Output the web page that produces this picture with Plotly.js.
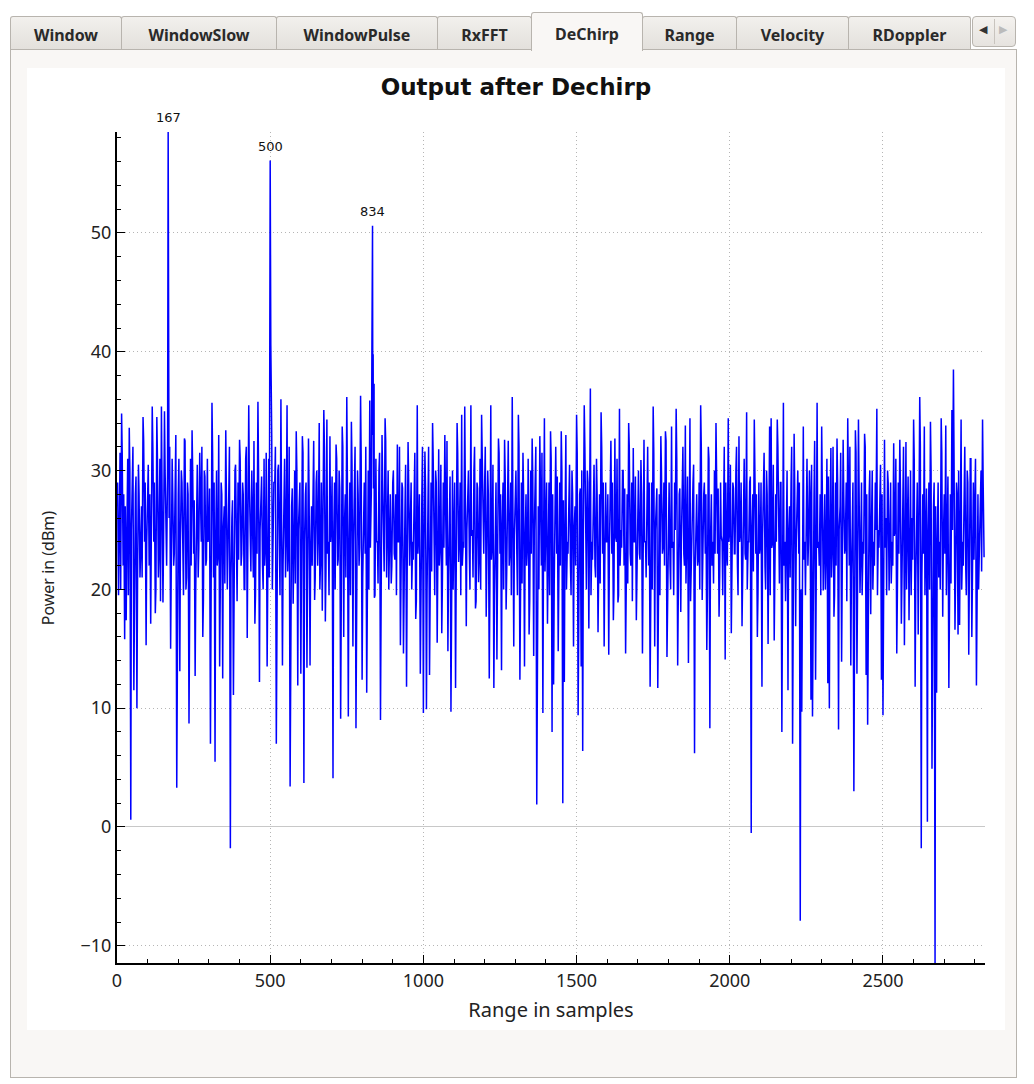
<!DOCTYPE html>
<html>
<head>
<meta charset="utf-8">
<script src="https://cdn.plot.ly/plotly-3.0.1.min.js"></script>
<style>
  html, body { margin: 0; padding: 0; background: #ffffff; width: 1034px; height: 1084px; overflow: hidden; }
  .tab { position: absolute; top: 16px; height: 33px; box-sizing: border-box;
         border: 1px solid #b8b4ae; border-bottom: none; border-radius: 3px 3px 0 0;
         background: linear-gradient(#f2f0ed, #e3e0dc);
         font-family: "Noto Sans", "DejaVu Sans", sans-serif; font-weight: bold; font-size: 16px;
         color: #2a2a2a; text-align: center; line-height: 36px; }
  .tab.active { top: 12px; height: 39px; background: #f9f7f5; z-index: 3; line-height: 42px; }
  #panel { position: absolute; left: 10px; top: 49px; width: 1007px; height: 1029px; box-sizing: border-box;
           border: 1px solid #b8b4ae; background: #f9f7f5; }
  #chart { position: absolute; left: 27px; top: 68px; width: 978px; height: 962px; background: #ffffff; z-index: 2; }
  #arrows { position: absolute; left: 972px; top: 16px; width: 44px; height: 31px; box-sizing: border-box;
            border: 1px solid #b8b4ae; border-radius: 4px; background: linear-gradient(#f4f2ef, #e6e3df); }
  #arrows span { position: absolute; top: 6px; font-size: 11px; font-family: "DejaVu Sans", sans-serif; }
</style>
</head>
<body>
<div id="panel"></div>
<div class="tab" style="left:10px;width:112px;">Window</div>
<div class="tab" style="left:121px;width:156px;">WindowSlow</div>
<div class="tab" style="left:276px;width:162px;">WindowPulse</div>
<div class="tab" style="left:437px;width:95px;">RxFFT</div>
<div class="tab active" style="left:531px;width:112px;">DeChirp</div>
<div class="tab" style="left:642px;width:95px;">Range</div>
<div class="tab" style="left:736px;width:113px;">Velocity</div>
<div class="tab" style="left:848px;width:123px;">RDoppler</div>
<div id="arrows"><span style="left:6px;color:#333;">&#9664;</span><span style="left:26px;color:#bbb;">&#9654;</span><div style="position:absolute;left:21px;top:2px;width:1px;height:25px;background:#c8c4be;"></div></div>
<div id="chart"></div>
<script>
// ---- data (read / estimated from the reference picture) ----
const sampleStep = 5;      // power[i] is the value at sample i*sampleStep
const midOffset = 2;       // powerMid[i] is the value at sample i*sampleStep + midOffset
const power = [
 27,19.5,31.5,34.8,22,15.8,17.4,31,33.6,0.6,30,11.5,28,10,30.5,21,27,34.5,24,15.3,
 29,22,17.1,35.4,24,18,34.5,21,31,35.4,18.9,35,23,30,26,15,31,22,32.8,3.3,
 28,13.1,30,22,32.7,20,29,8.7,31,33.4,23,12.7,30,21,31.5,24,16,30,22,31,
 25,7.0,35.7,21,5.5,30,23,13.5,29,12.5,27,33.4,20,28,-1.8,26,11.1,30,19,29,
 32.6,22,29,20,31,15.9,35.5,23,30,21,17.1,29,35.8,12.2,28,22,31,24,13.5,31,
 30,33,24,29,7.0,30,22,36,13.6,29,21,35.5,24,3.4,27,18.8,30,33.3,11.9,29,
 12.9,32.9,3.7,28,13.4,32.7,13.6,27,32.2,19.1,29,22,34,23,18.2,35.1,17.3,34.3,24,32.9,
 26,4.1,29,32.2,22,30,9.1,33.7,16,28,36.2,9.3,29,34.1,15.2,28,8.3,30,22,36.3,
 12.4,29,23,11.3,30,35.9,28,33,19.3,31,24,30,9.0,33,23,34.4,21,30,25,20.5,
 29,23,28,32.2,24,15.3,29,14.6,27,11.8,32.4,22,29,24,30,17.5,35.5,25,12.9,28,
 9.6,31.6,9.9,28,12.8,29,34,23,30,15.5,31.8,24,16.3,29,33,22,14.8,28,9.7,30,
 26,11.7,34,22.3,29,34.7,24,35.4,16.9,30,23,35.5,25,30,18.4,29,20.6,31,34.7,23,
 29,17.7,30,12.5,35.5,24,11.7,28,14.1,32.7,23,13.2,29,32.6,18.3,30,22,29,36.2,15.2,
 28,23,34.7,12.4,29,31.5,13.5,28,24,16.2,30,32.7,14.4,28,1.9,27,32.9,22,9.6,34.4,
 26,17.1,29,33.3,8.0,12,28,23,14.8,29,33.3,2.0,12.2,33,24,29,22,30,15.2,27,
 34.7,9.4,28,13.5,6.4,35.5,23,30,16.7,36.9,24,30,22,31,16.4,28,34.9,23,15.2,29,
 24,14.5,29,23,17.4,32.7,24,18.9,35.2,25,30,22,14.6,28,34,23,29,31.9,24,17.4,
 28,23,30.9,14.6,32.6,24,29,22,11.8,29,35.4,15.2,27,11.7,28,32.9,23,29,33.3,14.3,
 26,22,33.7,24,29,35.2,13.6,28,18.1,30,23,33.8,25,13.8,34.4,24,29,6.2,27,22,
 29,35.5,19.1,28,23,14.9,32,8.3,28,24,30,34,23,17.7,29,24,30,14.1,23,34.4,
 25,16.3,29,23,30,22,32.9,25,16.9,28,23,34.9,24,29,-0.5,28,34.3,23,16,29,
 24,11.8,28,22,30,15.4,33.7,34.4,24,15.7,28,34.3,23,29,8,35.7,24,28,11.5,27,
 29,7.0,33.1,16.9,28,23,-7.9,9.7,33.7,24,29,22,30,10.7,9.3,28,12.4,35.7,24,28,
 33.7,19.9,28,24,12.1,10,31.9,24,17.7,29,32.7,8.2,27,13.9,32.6,23,29,34.4,22,13.6,
 27,3.0,33.4,12.9,34.3,19.7,29,24,33.1,12.8,8.6,28,17.9,30,24,29,35.2,25,29,12.4,
 9.4,32.6,26,30,19.9,29,24,32.3,25,14.6,29,32.6,17.1,28,15.3,32.4,24,17.4,30,26,
 34.3,11.8,29,16.2,36.2,-1.8,28,33.7,24,0.45,29,34.1,4.9,27,-11.45,11.3,29,24,34.4,17.7,
 28,33.8,24,11.7,28,35.1,38.5,16.6,29,16.2,17,34.3,24,29,22,30,14.5,31,16,29,
 30.3,11.9,28,24,30,34.3,22.7
];
// dense core of the noise band, between the samples above
const powerMid = [
 29,23.5,20,31.5,28,27,24,19.5,30,25,32,22,29.5,20.5,28,23,21,32.5,29,24,
 30.5,28,24.5,32,29,20,31,23,19,28.5,24,30,22,25,32,21,28,23,33,20.5,
 31,24,29,19.5,32.5,21,28,25,22,30,27.5,20,30.5,23.5,28,32,19,29.5,22.5,24,
 28.5,20,31.5,29,24,22,33,19.5,28,25,20.5,29.5,23,32,21,27.5,24.5,30.5,19,22.5,
 31,23,28,20,32,24.5,29,21.5,27.5,32.5,19.5,23,30,25,29.5,20,22,31.5,24,21,
 23,20,29,32,25,30.5,19.5,28,22,31,24,21.5,32,20,28.5,23.5,20.5,30,25,29,
 20.5,31.5,24,29,19.5,28,23,22,32.5,21,30,24.5,20,29,25,32,21.5,23,19.5,24,
 29.5,24,20,31,22.5,28.5,19.5,32,25,21,29,23,19.5,30.5,24,32,20.5,28,23.5,31,
 21,29,32,24.5,20,23.5,22,28.5,19.5,24,20.5,31.5,23,29,21.5,32.5,25,20,28,22,
 30,22.5,19.5,24,32,20,28.5,23.5,30.5,21,29,25,20,22.5,31.5,19,23,28,24.5,32,
 23,28.5,20,32,24,21.5,31,19.5,29,25,22,30.5,20.5,23.5,28,32.5,21,29.5,24,20,
 29,20.5,31.5,24,19.5,22,23.5,28,25,30,20,24.5,21,32,19,28.5,22.5,20,31,23,
 32,24,28,20,22.5,30.5,19.5,29,23,31.5,28,25,20,29.5,21.5,32.5,23,19.5,28.5,24.5,
 30,19.5,32,23.5,20.5,28,24,22,31,19,23,29.5,25,32,21,20,28.5,31.5,23,21.5,
 29,24,19.5,31,28,20.5,32,29.5,23,22,30,27.5,24.5,20,23,30.5,19.5,28,25,22,
 31.5,21,28.5,30,24,32,20,29,23.5,19.5,22.5,30.5,21,28,25,20.5,32,29,22,24,
 28,23,32.5,29,20,24.5,31,19.5,22,23.5,30,28.5,24,20.5,32,22,19,24,29.5,21,
 30,22.5,28,19.5,24,21,32,29,23,20,31.5,25,28.5,21.5,19.5,30,23.5,22,32.5,20,
 29,20,23.5,19.5,25,31,21,28.5,24,32,22,20.5,29.5,23,19,24.5,30.5,21.5,28,22.5,
 20,32,23.5,29,28,19.5,31,24,22,20.5,23,30.5,28.5,21,24.5,19.5,32,29,22,24,
 30.5,20,28.5,23,32,19.5,24,29,21,31,22.5,20,24,29.5,25,21.5,31,28,19.5,23,
 29,24.5,31.5,20,28,22,19.5,23.5,30.5,21,24,32,20.5,29,23,22,19,30,24.5,21,
 32,21,28.5,24,30,29,20,23,22.5,19.5,31,24,28,30.5,21.5,32.5,20,23.5,22,19.5,
 28.5,23,20,31,29.5,24.5,21,32,19.5,22,29,25,31.5,20.5,28,23.5,19,30,32,21,
 29,24,31.5,20,28.5,22.5,19.5,23,32,28,21,30,24.5,20,22,25,19.5,23.5,30.5,28,
 21,23.5,19.5,29,24,20.5,22,24.5,31,19.5,23,28.5,21,32,25,20,29.5,23,19.5,22.5,
 31,20.5,29,24,32,21,23,19.5,28.5,24.5,20,30,22,29,27,23.5,21,20,31.5,24,
 23,19.5,29.5,24,20.5,25,31,21,28,30,23.5,20,22,32,19.5,29,24.5,31,21,22.5,
 31,23,20,24,21.5,29
];
// individual samples around the three targets (sample, power)
const peakSamples = [167, 498, 500, 502, 504, 832, 834, 836, 839];
const peakPower   = [58.5, 38.3, 56.1, 40.6, 37.0, 40.5, 50.6, 39.8, 37.3];
const markedPeaks = [167, 500, 834];
const xTickVals = [0, 500, 1000, 1500, 2000, 2500];
const yTickVals = [-10, 0, 10, 20, 30, 40, 50];

// ---- merge into one sorted series ----
const pts = [];
const peakSet = new Set(peakSamples);
power.forEach((v, i) => { const s = i * sampleStep; if (!peakSet.has(s)) pts.push([s, v]); });
powerMid.forEach((v, i) => { const s = i * sampleStep + midOffset; if (!peakSet.has(s)) pts.push([s, v]); });
peakSamples.forEach((s, i) => pts.push([s, peakPower[i]]));
pts.sort((a, b) => a[0] - b[0]);
const xs = pts.map(p => p[0]);
const ys = pts.map(p => p[1]);

const peakY = markedPeaks.map(s => peakPower[peakSamples.indexOf(s)]);

const tickFont = { family: "Noto Sans, Open Sans, sans-serif", size: 18, color: "#222222" };

const data = [{
  type: "scatter", mode: "lines", x: xs, y: ys,
  line: { color: "#0000ff", width: 1.5 }, hoverinfo: "skip"
}];

const annotations = markedPeaks.map((s, i) => ({
  x: s, y: peakY[i], xref: "x", yref: "y", text: String(s), showarrow: false,
  yanchor: "bottom", yshift: 5, font: { family: "DejaVu Sans, sans-serif", size: 13, color: "#111111" }
}));
annotations.push({
  text: "Power in (dBm)", xref: "paper", yref: "paper", x: 0, y: 0.475, xanchor: "center", yanchor: "middle",
  xshift: -69, textangle: -90, showarrow: false,
  font: { family: "Noto Sans, Open Sans, sans-serif", size: 16, color: "#222" }
});

const layout = {
  width: 978, height: 962,
  margin: { l: 90, r: 20, t: 64, b: 67 },
  paper_bgcolor: "#ffffff", plot_bgcolor: "#ffffff",
  showlegend: false,
  title: { text: "<b>Output after Dechirp</b>", x: 0.5, xanchor: "center", y: 0.98, yref: "container", yanchor: "middle",
           font: { family: "DejaVu Sans, sans-serif", size: 23, color: "#111111" }, automargin: false },
  xaxis: {
    range: [0, 2833], tickvals: xTickVals, ticks: "inside", ticklen: 8, tickwidth: 1, tickcolor: "#000",
    showline: true, linecolor: "#000", linewidth: 2, mirror: false,
    showgrid: true, gridcolor: "#b5b5b5", griddash: "1px,3px", gridwidth: 1, zeroline: false,
    minor: { dtick: 100, ticks: "inside", ticklen: 4, tickcolor: "#000", showgrid: false },
    tickfont: tickFont, fixedrange: true,
    title: { text: "Range in samples", font: { family: "Noto Sans, Open Sans, sans-serif", size: 20, color: "#222" }, standoff: 12 }
  },
  yaxis: {
    range: [-11.45, 58.5], tickvals: yTickVals, ticks: "inside", ticklen: 8, tickwidth: 1, tickcolor: "#000",
    showline: true, linecolor: "#000", linewidth: 2, mirror: false,
    showgrid: true, gridcolor: "#b5b5b5", griddash: "1px,3px", gridwidth: 1,
    zeroline: true, zerolinecolor: "#c8c8c8", zerolinewidth: 1,
    minor: { dtick: 2, ticks: "inside", ticklen: 4, tickcolor: "#000", showgrid: false },
    tickfont: tickFont, fixedrange: true
  },
  annotations: annotations
};

Plotly.newPlot("chart", data, layout, { displayModeBar: false, staticPlot: true });
</script>
</body>
</html>
